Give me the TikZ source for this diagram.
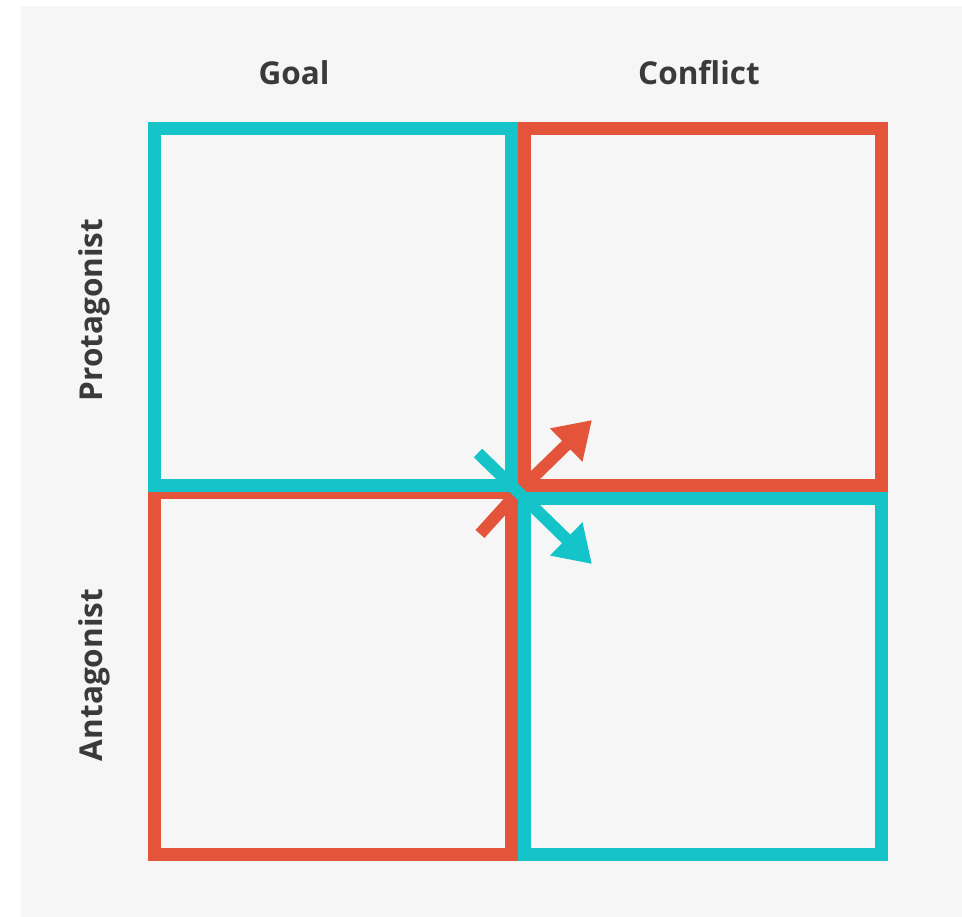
\documentclass[tikz,border=0pt]{standalone}
\usepackage{fontspec}
\setmainfont{Open Sans}
\usetikzlibrary{arrows.meta}
\definecolor{cy}{HTML}{14C4C8}
\definecolor{rd}{HTML}{E4543A}
\definecolor{bg}{HTML}{F6F6F6}
\definecolor{tx}{HTML}{3A3A3A}
\begin{document}
\begin{tikzpicture}[x=1pt,y=-1pt,
  box/.style={line width=13pt, line join=miter},
  lbl/.style={font=\fontsize{31.5}{36}\selectfont\bfseries, text=tx, inner sep=0pt},
  arr/.style={line width=12pt, -{Triangle[length=36pt,width=44pt]}}]
\useasboundingbox (0,0) rectangle (962,917);
\fill[white] (0,0) rectangle (962,917);
\fill[bg] (21,6) rectangle (962,917);
% boxes
\draw[box, rd] (154.5,492) rectangle (511.5,854.5);
\draw[box, rd] (524.5,128.5) rectangle (881.5,485);
\draw[box, cy] (154.5,128.5) rectangle (511.5,485);
\draw[box, cy] (524.5,498.5) rectangle (881.5,854.5);
% arrows
\coordinate (c) at (518,492);
\coordinate (rt) at (480,534);
\coordinate (rh) at (592,420);
\coordinate (ct) at (478,453);
\coordinate (ch) at (592,564);
\draw[line width=12pt, rd] (rt) -- (c);
\draw[arr, rd] (c) -- (rh);
\draw[arr, cy] (ct) -- (ch);
% labels
\node[lbl] (goal) at (294,73) {Goal};
\node[lbl] (conf) at (699,73) {Conflict};
\node[lbl, rotate=90] (prot) at (94,310) {Protagonist};
\node[lbl, rotate=90] (anta) at (94,675) {Antagonist};
\end{tikzpicture}
\end{document}
